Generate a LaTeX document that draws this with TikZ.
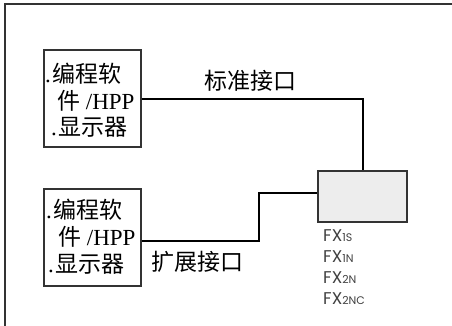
\documentclass[tikz,border=0pt]{standalone}
\usepackage{fontspec}
\setmainfont{Liberation Serif}
\newfontfamily\cjk{Noto Sans CJK SC}
\newfontfamily\fxfont{Poppins}
\begin{document}
\begin{tikzpicture}[x=1pt,y=-1pt,
  frame/.style={draw=black!80,line width=1.6pt},
  devbox/.style={draw=black!80,line width=1.6pt},
  wire/.style={draw=black,line width=1.3pt},
  boxtxt/.style={inner sep=0pt,anchor=west,font=\fontsize{23}{23}\selectfont},
  lbl/.style={inner sep=0pt,font=\cjk\fontsize{23}{23}\selectfont},
  fx/.style={inner sep=0pt,anchor=west,text=black!75,font=\fxfont\fontsize{17}{17}\selectfont}]
\useasboundingbox (0,0) rectangle (452,325);
\fill[white] (0,0) rectangle (452,325);
\draw[frame] (5,330) -- (5,4) -- (460,4);
% boxes
\node[devbox,minimum width=97pt,minimum height=97pt,inner sep=0pt] (b1) at (92.5,98.5) {};
\node[devbox,minimum width=97pt,minimum height=97pt,inner sep=0pt] (b2) at (92.5,237.5) {};
\node[devbox,fill=black!7,minimum width=89pt,minimum height=51pt,inner sep=0pt] (dev) at (362.5,196.5) {};
% box texts
\node[boxtxt] (t11) at (45,74) {.\kern2pt{\cjk 编程软}};
\node[boxtxt] (t12) at (57,101) {{\cjk 件} /HPP};
\node[boxtxt] (t13) at (51,127) {.\kern2pt{\cjk 显示器}};
\node[boxtxt] (t21) at (46,210) {.\kern2pt{\cjk 编程软}};
\node[boxtxt] (t22) at (58,237) {{\cjk 件} /HPP};
\node[boxtxt] (t23) at (48,264) {.\kern2pt{\cjk 显示器}};
% wires
\coordinate (c1) at (363,99);
\draw[wire] (b1.east |- c1) -- (c1) -- (c1 |- dev.north);
\coordinate (c2) at (259,241);
\coordinate (c3) at (259,193);
\draw[wire] (b2.east |- c2) -- (c2) -- (c3) -- (c3 -| dev.west);
% labels
\node[lbl] (l1) at (250,81) {标准接口};
\node[lbl] (l2) at (197,262) {扩展接口};
% FX labels
\node[fx] (f1) at (323,236) {FX\fontsize{11}{11}\selectfont 1S};
\node[fx] (f2) at (323,257) {FX\fontsize{11}{11}\selectfont 1N};
\node[fx] (f3) at (323,278) {FX\fontsize{11}{11}\selectfont 2N};
\node[fx] (f4) at (323,299) {FX\fontsize{11}{11}\selectfont 2NC};
\end{tikzpicture}
\end{document}
